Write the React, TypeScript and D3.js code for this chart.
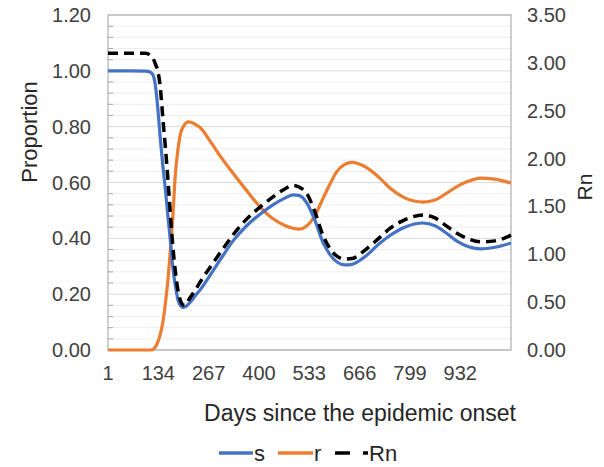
import React from 'react';
import * as d3 from 'd3';

const days = [1, 60, 100, 113, 120, 126, 133, 139, 146, 153, 160, 166, 172, 179, 186, 193, 200, 207, 214, 222, 232, 246, 270, 300, 331, 368, 408, 437, 467, 490, 507, 527, 547, 570, 586, 606, 627, 646, 676, 720, 746, 785, 834, 865, 894, 923, 954, 985, 1023, 1066];

const sValues = [1.0, 1.0, 0.999, 0.995, 0.985, 0.95, 0.86, 0.76, 0.66, 0.57,
  0.47, 0.39, 0.30, 0.23, 0.18, 0.158, 0.153, 0.156, 0.165, 0.177,
  0.195, 0.218, 0.266, 0.328, 0.39, 0.446, 0.492, 0.52, 0.543, 0.556,
  0.553, 0.525, 0.467, 0.383, 0.345, 0.315, 0.305, 0.307, 0.33, 0.383,
  0.41, 0.44, 0.455, 0.445, 0.42, 0.39, 0.37, 0.362, 0.368, 0.383];

const rValues = [0, 0, 0, 0, 0.002, 0.01, 0.03, 0.055, 0.10, 0.17,
  0.26, 0.36, 0.47, 0.63, 0.72, 0.777, 0.80, 0.813, 0.817, 0.815,
  0.808, 0.795, 0.75, 0.69, 0.634, 0.57, 0.505, 0.47, 0.447, 0.436,
  0.433, 0.445, 0.48, 0.545, 0.59, 0.64, 0.665, 0.672, 0.66, 0.615,
  0.58, 0.545, 0.53, 0.537, 0.56, 0.585, 0.605, 0.616, 0.612, 0.598];

const rnValues = [3.10, 3.10, 3.10, 3.08, 3.05, 2.99, 2.91, 2.75, 2.42, 2.10,
  1.75, 1.41, 1.10, 0.82, 0.62, 0.51, 0.47, 0.47, 0.52, 0.57,
  0.63, 0.72, 0.86, 1.03, 1.20, 1.37, 1.51, 1.60, 1.68, 1.72,
  1.70, 1.63, 1.45, 1.19, 1.07, 0.98, 0.95, 0.955, 1.03, 1.18,
  1.27, 1.36, 1.41, 1.38, 1.30, 1.22, 1.16, 1.13, 1.14, 1.20];

const xTicks = [1, 134, 267, 400, 533, 666, 799, 932];
const leftTicks = [0, 0.2, 0.4, 0.6, 0.8, 1.0, 1.2];
const rightTicks = [0, 0.5, 1.0, 1.5, 2.0, 2.5, 3.0, 3.5];

const W = 604, H = 467;
const left = 108, right = 511, top = 15, bottom = 350;
const FONT = '"Liberation Sans", Arial, sans-serif';
const BLUE = '#4472C4', ORANGE = '#ED7D31';

export default function App() {
  const x = d3.scaleLinear().domain([1, 1066]).range([left, right]);
  const yL = d3.scaleLinear().domain([0, 1.2]).range([bottom, top]);
  const yR = d3.scaleLinear().domain([0, 3.5]).range([bottom, top]);

  const idx = days.map((_, i) => i);
  const lineL = (vals: number[]) =>
    d3.line<number>().x(i => x(days[i])).y(i => yL(vals[i])).curve(d3.curveMonotoneX)(idx) || '';
  const lineR = (vals: number[]) =>
    d3.line<number>().x(i => x(days[i])).y(i => yR(vals[i])).curve(d3.curveMonotoneX)(idx) || '';

  const minor = d3.range(1, 30).map(k => k * 0.04).filter(v => Math.abs(v / 0.2 - Math.round(v / 0.2)) > 1e-6);

  return (
    <svg width={W} height={H} style={{ position: 'absolute', left: 0, top: 0, background: '#fff' }} fontFamily={FONT}>
      <rect x={0} y={0} width={W} height={H} fill="#fff" />
      {minor.map(v => (
        <line key={'m' + v} x1={left} x2={right} y1={yL(v)} y2={yL(v)} stroke="#eeeeee" strokeWidth={1} />
      ))}
      {leftTicks.map(v => (
        <line key={'g' + v} x1={left} x2={right} y1={yL(v)} y2={yL(v)} stroke="#d9d9d9" strokeWidth={1} />
      ))}
      {minor.map(v => (
        <line key={'t' + v} x1={left} x2={left + 5} y1={yL(v)} y2={yL(v)} stroke="#a6a6a6" strokeWidth={1} />
      ))}
      <rect x={left} y={top} width={right - left} height={bottom - top} fill="none" stroke="#b0b0b0" strokeWidth={1.2} />

      <path d={lineL(rValues)} fill="none" stroke={ORANGE} strokeWidth={3.2} strokeLinejoin="round" />
      <path d={lineL(sValues)} fill="none" stroke={BLUE} strokeWidth={3.2} strokeLinejoin="round" />
      <path d={lineR(rnValues)} fill="none" stroke="#000" strokeWidth={3.5} strokeDasharray="10,6" />

      {leftTicks.map(v => (
        <text key={'lt' + v} x={91} y={yL(v)} dy="0.35em" textAnchor="end" fontSize={20} fill="#404040">{v.toFixed(2)}</text>
      ))}
      {rightTicks.map(v => (
        <text key={'rt' + v} x={527} y={yR(v)} dy="0.35em" textAnchor="start" fontSize={20} fill="#404040">{v.toFixed(2)}</text>
      ))}
      {xTicks.map(v => (
        <text key={'xt' + v} x={x(v)} y={373} dy="0.35em" textAnchor="middle" fontSize={20} fill="#404040">{v}</text>
      ))}

      <text x={360} y={413} dy="0.35em" textAnchor="middle" fontSize={23} fill="#262626">Days since the epidemic onset</text>
      <text transform="translate(29,132) rotate(-90)" dy="0.35em" textAnchor="middle" fontSize={22} fill="#262626">Proportion</text>
      <text transform="translate(585,187) rotate(-90)" dy="0.35em" textAnchor="middle" fontSize={21} fill="#262626">Rn</text>

      <line x1={219} x2={253} y1={453} y2={453} stroke={BLUE} strokeWidth={3.5} />
      <text x={254} y={453} dy="0.35em" fontSize={22} fill="#262626">s</text>
      <line x1={278} x2={313} y1={453} y2={453} stroke={ORANGE} strokeWidth={3.5} />
      <text x={314} y={453} dy="0.35em" fontSize={22} fill="#262626">r</text>
      <line x1={335} x2={368} y1={453} y2={453} stroke="#000" strokeWidth={3.5} strokeDasharray="15,13" />
      <text x={369} y={453} dy="0.35em" fontSize={22} fill="#262626">Rn</text>
    </svg>
  );
}
